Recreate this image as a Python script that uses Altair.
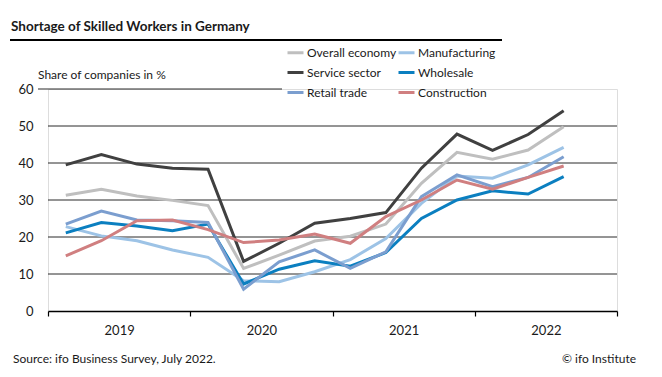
import altair as alt
import pandas as pd

# ---------------- data ----------------
quarters = ["2019 Q1", "2019 Q2", "2019 Q3", "2019 Q4",
            "2020 Q1", "2020 Q2", "2020 Q3", "2020 Q4",
            "2021 Q1", "2021 Q2", "2021 Q3", "2021 Q4",
            "2022 Q1", "2022 Q2", "2022 Q3"]
series_names = ["Overall economy", "Manufacturing", "Service sector",
                "Wholesale", "Retail trade", "Construction"]
overall = [31.3, 32.9, 31.1, 29.9, 28.5, 11.5, 15.1, 18.9, 20.2, 23.5, 34.5, 42.9, 41.0, 43.5, 49.8]
manufacturing = [22.8, 20.3, 19.0, 16.5, 14.5, 8.2, 7.9, 10.6, 13.9, 19.6, 29.1, 36.5, 35.9, 39.5, 44.2]
service = [39.5, 42.3, 39.7, 38.6, 38.3, 13.4, 18.3, 23.7, 25.0, 26.6, 38.6, 47.8, 43.4, 47.7, 54.1]
wholesale = [21.1, 23.9, 23.0, 21.7, 23.5, 7.3, 11.3, 13.6, 12.1, 15.8, 25.0, 30.0, 32.5, 31.6, 36.3]
retail = [23.5, 27.0, 24.6, 24.4, 23.9, 5.9, 13.3, 16.5, 11.5, 16.0, 30.9, 36.8, 33.6, 36.1, 41.7]
construction = [14.9, 19.0, 24.4, 24.6, 22.0, 18.5, 19.2, 20.8, 18.3, 25.5, 30.0, 35.4, 32.9, 36.1, 39.2]
colors = ["#bfbfbf", "#9dc3e6", "#404040", "#0b7fc0", "#7b9ecf", "#d07f80"]
y_ticks = [0, 10, 20, 30, 40, 50, 60]
grid_values = [10, 20, 30, 40, 50]
top_grid = [60]

title_text = ["Shortage of Skilled Workers in Germany"]
ylabel_text = ["Share of companies in %"]
source_text = ["Source: ifo Business Survey, July 2022."]
credit_text = ["© ifo Institute"]

# ---------------- build table ----------------
all_values = [overall, manufacturing, service, wholesale, retail, construction]
rows = []
for name, vals in zip(series_names, all_values):
    for q, v in zip(quarters, vals):
        yr, qq = q.split(" Q")
        rows.append({"series": name, "t": int(yr) + (int(qq) - 0.5) / 4, "value": v})
df = pd.DataFrame(rows)

FONT = "Lato"
TXT = "#1a1a1a"
W, H = 569, 222

x_scale = alt.Scale(domain=[2019, 2023], nice=False, zero=False)
y_scale = alt.Scale(domain=[0, 60], nice=False)
y_axis = alt.Axis(values=y_ticks, grid=False, domain=False, ticks=False, title=None,
                  labelPadding=15, labelFontSize=13, labelOverlap=False,
                  labelColor=TXT, labelFont=FONT)

lines = alt.Chart(df).mark_line(strokeWidth=3).encode(
    x=alt.X("t:Q", scale=x_scale,
            axis=alt.Axis(values=[2019 + 0.5 * i for i in range(9)],
                          labelExpr="datum.value % 1 === 0.5 ? '' + floor(datum.value) : ''",
                          title=None, grid=False, domainColor="black", domainWidth=1.5,
                          tickColor="black", tickSize=5, tickWidth=1.2,
                          tickOpacity={"condition": {"test": "datum.value % 1 === 0", "value": 1}, "value": 0},
                          labelFontSize=13, labelPadding=8, labelColor=TXT, labelFont=FONT)),
    y=alt.Y("value:Q", scale=y_scale, axis=y_axis, title=None),
    color=alt.Color("series:N", scale=alt.Scale(domain=series_names, range=colors),
                    title=None,
                    legend=alt.Legend(orient="none", legendX=238, legendY=-46, columns=2,
                                      direction="horizontal",
                                      symbolType="stroke", symbolStrokeWidth=3, symbolSize=256,
                                      labelFontSize=12, labelFont=FONT, labelColor=TXT,
                                      rowPadding=4, columnPadding=-10, padding=0, labelOffset=2,
                                      symbolOffset=0)),
)

grid = alt.Chart(pd.DataFrame({"g": grid_values})).mark_rule(color="#2a2a2a", strokeWidth=1).encode(
    y=alt.Y("g:Q", scale=y_scale, axis=y_axis, title=None), x=alt.value(0), x2=alt.value(W))
grid60 = alt.Chart(pd.DataFrame({"g": top_grid})).mark_rule(color="#2a2a2a", strokeWidth=1).encode(
    y=alt.Y("g:Q", scale=y_scale, axis=y_axis, title=None), x=alt.value(-10), x2=alt.value(234))

title = alt.Chart(pd.DataFrame({"t": title_text})).mark_text(
    align="left", baseline="alphabetic", font=FONT, fontSize=13.5, fontWeight="bold", color=TXT
).encode(text="t:N", x=alt.value(-37), y=alt.value(-58))
title_rule = alt.Chart(pd.DataFrame({"t": title_text})).mark_rule(color="black", strokeWidth=2).encode(
    x=alt.value(-38), x2=alt.value(454), y=alt.value(-49))
ylabel = alt.Chart(pd.DataFrame({"t": ylabel_text})).mark_text(
    align="left", baseline="alphabetic", font=FONT, fontSize=12, color=TXT
).encode(text="t:N", x=alt.value(-10), y=alt.value(-10))
source = alt.Chart(pd.DataFrame({"t": source_text})).mark_text(
    align="left", baseline="alphabetic", font=FONT, fontSize=12, color=TXT
).encode(text="t:N", x=alt.value(-35), y=alt.value(274))
credit = alt.Chart(pd.DataFrame({"t": credit_text})).mark_text(
    align="right", baseline="alphabetic", font=FONT, fontSize=12, color=TXT
).encode(text="t:N", x=alt.value(588), y=alt.value(274))

chart = alt.layer(grid, grid60, lines, title, title_rule, ylabel, source, credit).properties(
    width=W, height=H,
    padding={"left": 40, "top": 81, "right": 37, "bottom": 58},
    autosize=alt.AutoSizeParams(type="none"),
    background="white",
).configure_view(stroke=None).configure(font=FONT)

chart.save("out.html", embed_options={"renderer": "svg", "actions": False})
